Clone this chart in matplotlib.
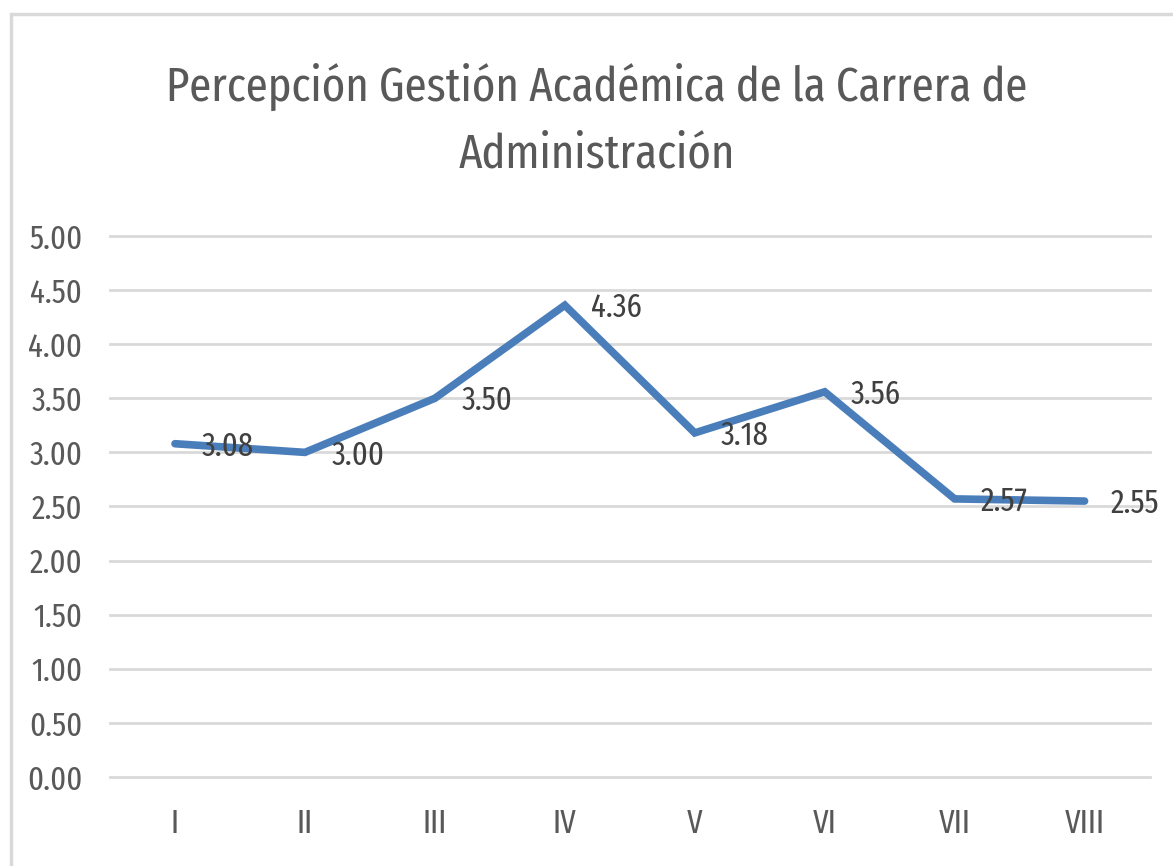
import matplotlib
matplotlib.use("Agg")
import matplotlib.pyplot as plt

# datos
semestres = ["I", "II", "III", "IV", "V", "VI", "VII", "VIII"]
promedios = [3.08, 3.00, 3.50, 4.36, 3.18, 3.56, 2.57, 2.55]
titulo = "Percepción Gestión Académica de la Carrera de\nAdministración"

plt.rcParams["font.family"] = ["Fira Sans Extra Condensed", "DejaVu Sans"]
plt.rcParams["font.weight"] = "normal"

fig = plt.figure(figsize=(11.73, 8.66), dpi=100)
ax = fig.add_axes([0.0938, 0.1028, 0.8862, 0.6247])

x = list(range(len(semestres)))
ax.plot(x, promedios, color="#4a7ebb", linewidth=5.5, solid_capstyle="round",
        solid_joinstyle="miter", zorder=3)

for xi, v in zip(x, promedios):
    ax.annotate(f"{v:.2f}", (xi, v), xytext=(19, -2), textcoords="offset points",
                ha="left", va="center", fontsize=24, color="#404040", zorder=4)

ax.set_xlim(-0.5, len(semestres) - 0.5)
ax.set_ylim(0, 5)
ax.set_yticks([i * 0.5 for i in range(11)])
ax.set_yticklabels([f"{i * 0.5:.2f}" for i in range(11)])
ax.set_xticks(x)
ax.set_xticklabels(semestres)
ax.tick_params(axis="both", length=0, labelsize=24, labelcolor="#595959")
ax.tick_params(axis="y", pad=20)
ax.tick_params(axis="x", pad=22)
ax.grid(axis="y", color="#d9d9d9", linewidth=2)
ax.set_axisbelow(True)
for s in ax.spines.values():
    s.set_visible(False)
for g in ax.get_ygridlines():
    g.set_clip_on(False)

fig.text(0.509, 0.861, titulo, ha="center", va="center", fontsize=35,
         color="#595959", linespacing=1.55)

# borde del gráfico
borde = plt.Rectangle((0.009, -0.02), 1.1, 1.004, transform=fig.transFigure,
                      fill=False, edgecolor="#d9d9d9", linewidth=2.5)
fig.patches.append(borde)

fig.savefig("out.png", dpi=100)
